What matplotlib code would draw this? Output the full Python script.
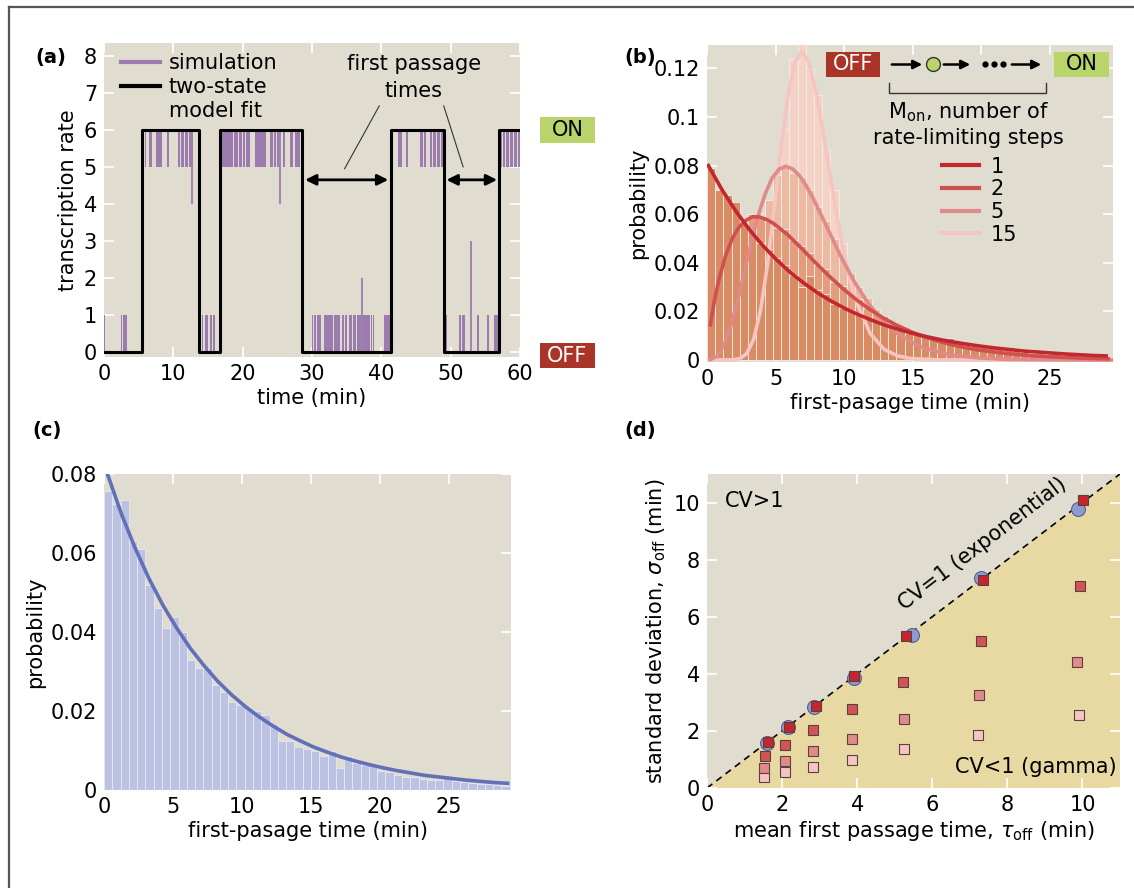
import matplotlib
matplotlib.use('Agg')
import matplotlib.pyplot as plt
from matplotlib.lines import Line2D
from matplotlib.patches import Rectangle, FancyArrowPatch, Polygon
import numpy as np

plt.rcParams['font.family'] = ['DejaVu Sans']
plt.rcParams['mathtext.fontset'] = 'dejavusans'

# ---------------- data ----------------
# panel (a): two-state fit (switch times, state values after each switch)
fit_times = [0, 5.42, 13.7, 16.8, 28.6, 41.4, 49.1, 57.0, 60]
fit_values = [0, 6, 0, 6, 0, 6, 0, 6, 6]
# simulation: dips from 6 to 5 during ON, bursts from 0 to 1 during OFF
on_dip_start = [5.45, 5.85, 6.5, 7.45, 7.85, 9.15, 10.7, 11.1, 11.75, 12.2, 12.7,
                16.9, 17.5, 18.1, 18.7, 19.4, 20.0, 20.5, 21.85, 22.4, 23.0, 24.0, 24.45,
                25.0, 25.8, 26.8, 27.6,
                42.35, 42.75, 43.5, 45.6, 46.15, 47.0, 47.45, 48.1, 48.6,
                57.1, 57.55, 58.0, 58.55, 59.1, 59.65]
on_dip_end = [5.75, 6.1, 6.9, 7.75, 8.4, 9.4, 11.0, 11.5, 12.1, 12.65, 12.85,
              17.4, 18.0, 18.6, 19.3, 19.9, 20.4, 21.0, 22.3, 22.9, 23.3, 24.35, 24.85,
              25.3, 26.1, 27.25, 28.2,
              42.65, 42.95, 43.85, 46.05, 46.5, 47.35, 47.85, 48.5, 49.0,
              57.45, 57.85, 58.35, 58.95, 59.5, 60.0]
off_burst_start = [0.0, 2.4, 2.7, 2.95, 3.2,
                   13.85, 14.1, 14.55, 14.85, 15.35, 15.7,
                   29.95, 30.3, 30.7, 31.05, 31.8, 32.5, 33.2, 34.35, 34.75, 35.35, 35.9,
                   36.45, 36.8, 37.25, 37.7, 38.45, 38.75, 40.35, 40.85,
                   49.2, 51.25, 51.65, 51.95, 53.8, 55.25, 56.25, 56.6]
off_burst_end = [0.2, 2.6, 2.85, 3.15, 3.35,
                 14.05, 14.35, 14.8, 15.05, 15.6, 16.0,
                 30.2, 30.55, 30.95, 31.3, 32.4, 33.1, 34.0, 34.65, 35.05, 35.8, 36.35,
                 36.75, 37.1, 37.65, 38.35, 38.65, 39.0, 40.75, 41.2,
                 49.45, 51.5, 51.9, 52.1, 54.05, 55.5, 56.5, 56.85]
spike_t = [12.75, 25.4, 37.15, 52.9]
spike_from = [6, 6, 0, 0]
spike_to = [4, 4, 2, 3]

# panels (b),(c): histograms, bin width 0.6 min
bin_width = 0.6
hist_c = [0.0758, 0.0725, 0.0734, 0.0630, 0.0610, 0.0520, 0.0460, 0.0410, 0.0437, 0.0400,
          0.0330, 0.0310, 0.0310, 0.0267, 0.0248, 0.0222, 0.0214, 0.0208, 0.0200, 0.0189,
          0.0166, 0.0125, 0.0123, 0.0110, 0.0104, 0.0100, 0.0085, 0.0100, 0.0055, 0.0087,
          0.0068, 0.0063, 0.0066, 0.0047, 0.0045, 0.0039, 0.0034, 0.0032, 0.0028, 0.0025,
          0.0025, 0.0030, 0.0024, 0.0019, 0.0017, 0.0015, 0.0014, 0.0013, 0.0011, 0.0009]
hist_m1 = [0.0790, 0.0700, 0.0680, 0.0650, 0.0560, 0.0530, 0.0480, 0.0455, 0.0420, 0.0390,
           0.0350, 0.0300, 0.0345, 0.0290, 0.0270, 0.0230, 0.0215, 0.0205, 0.0190, 0.0170,
           0.0160, 0.0150, 0.0135, 0.0125, 0.0110, 0.0105, 0.0095, 0.0085, 0.0080, 0.0090,
           0.0070, 0.0062, 0.0058, 0.0052, 0.0048, 0.0044, 0.0040, 0.0036, 0.0034, 0.0031,
           0.0028, 0.0026, 0.0024, 0.0021, 0.0019, 0.0018, 0.0016, 0.0015, 0.0014, 0.0013]
hist_m2 = [0.0110, 0.0330, 0.0420, 0.0525, 0.0560, 0.0600, 0.0585, 0.0570, 0.0545, 0.0540,
           0.0495, 0.0470, 0.0440, 0.0390, 0.0375, 0.0320, 0.0305, 0.0270, 0.0250, 0.0215,
           0.0195, 0.0180, 0.0155, 0.0140, 0.0128, 0.0105, 0.0100, 0.0085, 0.0078, 0.0065,
           0.0060, 0.0050, 0.0047, 0.0040, 0.0034, 0.0032, 0.0026, 0.0024, 0.0021, 0.0018,
           0.0016, 0.0014, 0.0012, 0.0011, 0.0009, 0.0008, 0.0007, 0.0006, 0.0006, 0.0005]
hist_m5 = [0.0, 0.0012, 0.0065, 0.0150, 0.0300, 0.0420, 0.0580, 0.0660, 0.0760, 0.0800,
           0.0770, 0.0755, 0.0700, 0.0630, 0.0570, 0.0500, 0.0440, 0.0360, 0.0300, 0.0255,
           0.0210, 0.0165, 0.0135, 0.0110, 0.0085, 0.0068, 0.0052, 0.0043, 0.0032, 0.0025,
           0.0020, 0.0015, 0.0011, 0.0009, 0.0007, 0.0005, 0.0004, 0.0003, 0.0002, 0.0002,
           0.0001, 0.0001, 0.0, 0.0, 0.0, 0.0, 0.0, 0.0, 0.0, 0.0]
hist_m15 = [0.0, 0.0, 0.0, 0.0, 0.0012, 0.0060, 0.0180, 0.0370, 0.0690, 0.0950,
            0.1240, 0.1300, 0.1200, 0.1090, 0.0870, 0.0700, 0.0480, 0.0350, 0.0215, 0.0145,
            0.0085, 0.0048, 0.0030, 0.0015, 0.0008, 0.0, 0.0, 0.0, 0.0, 0.0,
            0.0, 0.0, 0.0, 0.0, 0.0, 0.0, 0.0, 0.0, 0.0, 0.0,
            0.0, 0.0, 0.0, 0.0, 0.0, 0.0, 0.0, 0.0, 0.0, 0.0]

# fitted curves
m1_t = [0, 1, 2, 3, 4, 5, 6, 7, 8, 9, 10, 11, 12, 13, 14, 15, 16, 17, 18, 19,
        20, 21, 22, 23, 24, 25, 26, 27, 28, 29]
m1_p = [0.0800, 0.0700, 0.0613, 0.0536, 0.0469, 0.0411, 0.0359, 0.0315, 0.0275, 0.0241,
        0.0211, 0.0185, 0.0162, 0.0141, 0.0124, 0.0108, 0.0095, 0.0083, 0.0073, 0.0064,
        0.0056, 0.0049, 0.0043, 0.0037, 0.0033, 0.0029, 0.0025, 0.0022, 0.0019, 0.0017]
m2_t = [0.25, 0.55, 0.85, 1.35, 1.85, 2.35, 2.85, 3.35, 3.85, 4.35, 4.85, 5.85, 6.85, 7.85,
        8.85, 9.85, 10.85, 11.85, 12.85, 13.85, 14.85, 15.85, 16.85, 17.85, 18.85, 19.85,
        21.85, 23.85, 25.85, 27.85, 29.25]
m2_p = [0.0145, 0.0248, 0.0327, 0.0429, 0.0501, 0.0548, 0.0575, 0.0590, 0.0588, 0.0578,
        0.0562, 0.0517, 0.0462, 0.0404, 0.0348, 0.0297, 0.0250, 0.0209, 0.0173, 0.0143,
        0.0117, 0.0096, 0.0078, 0.0063, 0.0051, 0.0041, 0.0027, 0.0017, 0.0011, 0.0007, 0.0005]
m5_t = [0.25, 0.75, 1.25, 1.75, 2.25, 2.75, 3.25, 3.75, 4.25, 4.75, 5.25, 5.75, 6.25, 6.75,
        7.25, 7.75, 8.75, 9.75, 10.75, 11.75, 12.75, 13.75, 14.75, 15.75, 17.75, 19.75,
        21.75, 24.75, 29.5]
m5_p = [0.0002, 0.0017, 0.0062, 0.0142, 0.0248, 0.0368, 0.0489, 0.0598, 0.0685, 0.0749,
        0.0785, 0.0797, 0.0786, 0.0758, 0.0716, 0.0664, 0.0546, 0.0427, 0.0321, 0.0234,
        0.0165, 0.0114, 0.0078, 0.0051, 0.0021, 0.0009, 0.0003, 0.0001, 0.0]
m15_t = [0.0, 1.9, 2.4, 2.9, 3.4, 3.9, 4.4, 4.9, 5.4, 5.9, 6.4, 6.9, 7.4, 7.9, 8.4, 8.9,
         9.4, 9.9, 10.4, 10.9, 11.9, 12.9, 13.9, 14.9, 16.9, 19.9, 29.5]
m15_p = [0.0, 0.0001, 0.0006, 0.0027, 0.0085, 0.0203, 0.0389, 0.0625, 0.0873, 0.1086,
         0.1225, 0.1271, 0.1228, 0.1116, 0.0960, 0.0786, 0.0616, 0.0465, 0.0339, 0.0239,
         0.0109, 0.0045, 0.0017, 0.0006, 0.0001, 0.0, 0.0]

# panel (d)
tau_sim = [1.60, 2.17, 2.86, 3.91, 5.46, 7.30, 9.89]
sig_sim = [1.59, 2.13, 2.83, 3.87, 5.37, 7.35, 9.77]
tau_m1 = [1.62, 2.18, 2.90, 3.92, 5.29, 7.36, 10.01]
sig_m1 = [1.60, 2.15, 2.87, 3.92, 5.34, 7.30, 10.10]
tau_m2 = [1.55, 2.08, 2.83, 3.87, 5.22, 7.31, 9.93]
sig_m2 = [1.13, 1.51, 2.03, 2.78, 3.72, 5.16, 7.06]
tau_m5 = [1.53, 2.08, 2.81, 3.87, 5.26, 7.25, 9.85]
sig_m5 = [0.70, 0.95, 1.28, 1.73, 2.40, 3.26, 4.41]
tau_m15 = [1.53, 2.08, 2.83, 3.85, 5.26, 7.23, 9.92]
sig_m15 = [0.40, 0.55, 0.73, 0.99, 1.36, 1.87, 2.55]

# ---------------- style ----------------
W, H = 1134, 888
BG = '#e0dcd0'
YEL = '#e8d9a2'
PURPLE = '#9c7cae'
C_M1, C_M2, C_M5, C_M15 = '#c1272d', '#cf5050', '#e08a8a', '#f5c5c2'
H_M1, H_M2, H_M5, H_M15 = '#d98b63', '#e39d7d', '#ecb9a3', '#f4d3c6'
GREEN = '#b9d46a'
RED = '#a93427'
FS = 15

fig = plt.figure(figsize=(W / 100, H / 100), dpi=100)
fig.patch.set_facecolor('white')


def fx(px):
    return px / W


def fy(py):
    return 1 - py / H


def axes_px(l, t, r, b):
    return fig.add_axes([fx(l), fy(b), (r - l) / W, (b - t) / H])


def style(ax):
    ax.set_facecolor(BG)
    for s in ax.spines.values():
        s.set_visible(False)
    ax.tick_params(direction='in', length=7, width=1.2, color='white',
                   labelsize=FS, top=True, right=True, pad=5)


def box_label(l, t, r, b, text, fc, tc):
    fig.add_artist(Rectangle((fx(l), fy(b)), (r - l) / W, (b - t) / H,
                             transform=fig.transFigure, fc=fc, ec='none'))
    fig.text(fx((l + r) / 2), fy((t + b) / 2), text, ha='center', va='center',
             color=tc, fontsize=FS)


# ---------------- panel (a) ----------------
ax = axes_px(104, 43, 520, 357)
style(ax)
dw = [e - s for s, e in zip(on_dip_start, on_dip_end)]
ax.bar(on_dip_start, 1, width=dw, bottom=5, align='edge', color=PURPLE, lw=0, zorder=2)
bw = [e - s for s, e in zip(off_burst_start, off_burst_end)]
ax.bar(off_burst_start, 1, width=bw, bottom=0, align='edge', color=PURPLE, lw=0, zorder=2)
ax.vlines(spike_t, spike_from, spike_to, color=PURPLE, lw=1.3, zorder=2)
ax.step(fit_times, fit_values, where='post', color='black', lw=2.2, zorder=3)
ax.set_xlim(0, 60)
ax.set_ylim(-0.14, 8.35)
ax.set_xticks(range(0, 61, 10))
ax.set_yticks(range(0, 9))
ax.set_xlabel('time (min)', fontsize=FS, labelpad=3)
ax.set_ylabel('transcription rate', fontsize=FS, labelpad=4)
handles = [Line2D([], [], color=PURPLE, lw=3), Line2D([], [], color='black', lw=3),
           Line2D([], [], color='none')]
ax.legend(handles, ['simulation', 'two-state', 'model fit'], loc='upper left',
          bbox_to_anchor=(0.041, 0.968), frameon=False, fontsize=FS, handlelength=1.85,
          handletextpad=0.45, labelspacing=0.2, borderpad=0, borderaxespad=0)
ax.text(44.7, 7.42, 'first passage\ntimes', ha='center', va='center', fontsize=FS,
        linespacing=1.4)
ax.plot([39.7, 34.7], [6.65, 4.95], color='#333333', lw=0.8)
ax.plot([49.0, 51.8], [6.65, 5.0], color='#333333', lw=0.8)
for a0, a1 in [(29.0, 41.0), (49.4, 56.7)]:
    ax.annotate('', xy=(a1, 4.65), xytext=(a0, 4.65),
                arrowprops=dict(arrowstyle='<|-|>', lw=2, color='black',
                                mutation_scale=16, shrinkA=0, shrinkB=0))
box_label(540, 117, 595, 143, 'ON', GREEN, 'black')
box_label(540, 343, 595, 368, 'OFF', RED, 'white')

# ---------------- panel (b) ----------------
ax = axes_px(707, 45, 1113, 362)
style(ax)
edges = np.arange(len(hist_m1)) * bin_width
for hv, hc in [(hist_m15, H_M15), (hist_m5, H_M5), (hist_m2, H_M2), (hist_m1, H_M1)]:
    ax.bar(edges, hv, width=bin_width, align='edge', color=hc, edgecolor='#f3eee6',
           lw=0.6, zorder=2)
ax.plot(m15_t, m15_p, color=C_M15, lw=2.6, zorder=3)
ax.plot(m5_t, m5_p, color=C_M5, lw=2.6, zorder=3)
ax.plot(m2_t, m2_p, color=C_M2, lw=2.6, zorder=3)
ax.plot(np.array(m1_t) + 0.1, m1_p, color=C_M1, lw=2.6, zorder=3)
ax.set_xlim(0, 29.6)
ax.set_ylim(-0.0008, 0.1296)
ax.set_xticks([0, 5, 10, 15, 20, 25])
ax.set_yticks([0, 0.02, 0.04, 0.06, 0.08, 0.1, 0.12])
ax.set_yticklabels(['0', '0.02', '0.04', '0.06', '0.08', '0.1', '0.12'])
ax.set_xlabel('first-pasage time (min)', fontsize=FS, labelpad=3)
ax.set_ylabel('probability', fontsize=FS, labelpad=4)
lh = [Line2D([], [], color=c, lw=3) for c in (C_M1, C_M2, C_M5, C_M15)]
ax.legend(lh, ['1', '2', '5', '15'], loc='upper left', bbox_to_anchor=(0.578, 0.648),
          frameon=False, fontsize=FS, handlelength=1.8, handletextpad=0.55,
          labelspacing=0.13, borderpad=0, borderaxespad=0)
# inset scheme
box_label(826, 52, 880, 77, 'OFF', RED, 'white')
box_label(1054, 52, 1109, 77, 'ON', GREEN, 'black')
for p0, p1 in [(889, 925), (941, 973), (1009, 1044)]:
    fig.add_artist(FancyArrowPatch((fx(p0), fy(64.5)), (fx(p1), fy(64.5)),
                                   transform=fig.transFigure, arrowstyle='-|>',
                                   mutation_scale=13, lw=1.8, color='black'))
fig.add_artist(Line2D([fx(933)], [fy(64.5)], marker='o', ms=10, mfc=GREEN, mec='#333333',
                      mew=1.0, transform=fig.transFigure))
fig.add_artist(Line2D([fx(985), fx(994), fx(1003)], [fy(64.5)] * 3, ls='none', marker='o',
                      ms=3.5, color='black', transform=fig.transFigure))
fig.add_artist(Line2D([fx(889), fx(889), fx(1046), fx(1046)], [fy(83), fy(93), fy(93), fy(83)],
                      color='#333333', lw=1.0, transform=fig.transFigure))
fig.text(fx(968), fy(112), 'M$_{\\rm on}$, number of', ha='center', va='center', fontsize=FS)
fig.text(fx(968), fy(138), 'rate-limiting steps', ha='center', va='center', fontsize=FS)

# ---------------- panel (c) ----------------
ax = axes_px(104, 474, 511, 790)
style(ax)
ax.bar(np.arange(len(hist_c)) * bin_width, hist_c, width=bin_width, align='edge',
       color='#bcc2e2', edgecolor='#e8e8f2', lw=0.6, zorder=2)
ax.plot(np.array(m1_t) + 0.25, m1_p, color='#6270b8', lw=2.6, zorder=3)
ax.set_xlim(0, 29.5)
ax.set_ylim(0, 0.08)
ax.set_xticks([0, 5, 10, 15, 20, 25])
ax.set_yticks([0, 0.02, 0.04, 0.06, 0.08])
ax.set_yticklabels(['0', '0.02', '0.04', '0.06', '0.08'])
ax.set_xlabel('first-pasage time (min)', fontsize=FS, labelpad=3)
ax.set_ylabel('probability', fontsize=FS, labelpad=4)

# ---------------- panel (d) ----------------
ax = axes_px(707, 474, 1120, 788)
style(ax)
ax.add_patch(Polygon([(0, 0), (1, 0), (1, 1)], closed=True, transform=ax.transAxes,
                     fc=YEL, ec='none', zorder=0))
ax.plot([0, 11], [0, 11], color='black', lw=1.2, ls=(0, (4, 3)), zorder=1)
ax.plot(tau_sim, sig_sim, ls='none', marker='o', ms=10, mfc='#8e9bd3', mec='#5a5f8a',
        mew=0.8, zorder=3)
for tx, sy, c in [(tau_m15, sig_m15, C_M15), (tau_m5, sig_m5, C_M5),
                  (tau_m2, sig_m2, '#d05555'), (tau_m1, sig_m1, '#c4262b')]:
    ax.plot(tx, sy, ls='none', marker='s', ms=6.5, mfc=c, mec='#5a4040', mew=0.8, zorder=4)
ax.set_xlim(0, 11)
ax.set_ylim(0, 11)
ax.set_xticks(range(0, 11, 2))
ax.set_yticks(range(0, 11, 2))
ax.set_xlabel('mean first passage time, $\\tau_{\\rm off}$ (min)', fontsize=FS, labelpad=3)
ax.set_ylabel('standard deviation, $\\sigma_{\\rm off}$ (min)', fontsize=FS, labelpad=4)
ax.text(0.47, 10.05, 'CV>1', fontsize=FS, ha='left', va='center')
ax.text(10.9, 0.75, 'CV<1 (gamma)', fontsize=FS, ha='right', va='center')
ax.text(7.35, 8.55, 'CV=1 (exponential)', fontsize=FS, ha='center', va='center',
        rotation=37.3, rotation_mode='anchor')

# ---------------- panel letters & frame ----------------
for lbl, px, py in [('(a)', 51, 57), ('(b)', 640, 57), ('(c)', 47, 430), ('(d)', 640, 430)]:
    fig.text(fx(px), fy(py), lbl, ha='center', va='center', fontsize=14, fontweight='bold')
fig.add_artist(Line2D([fx(9), fx(9)], [fy(7), 0], color='#555555', lw=1.6,
                      transform=fig.transFigure))
fig.add_artist(Line2D([fx(9), 1], [fy(7), fy(7)], color='#555555', lw=1.6,
                      transform=fig.transFigure))

fig.savefig('out.png', dpi=100, facecolor='white')
